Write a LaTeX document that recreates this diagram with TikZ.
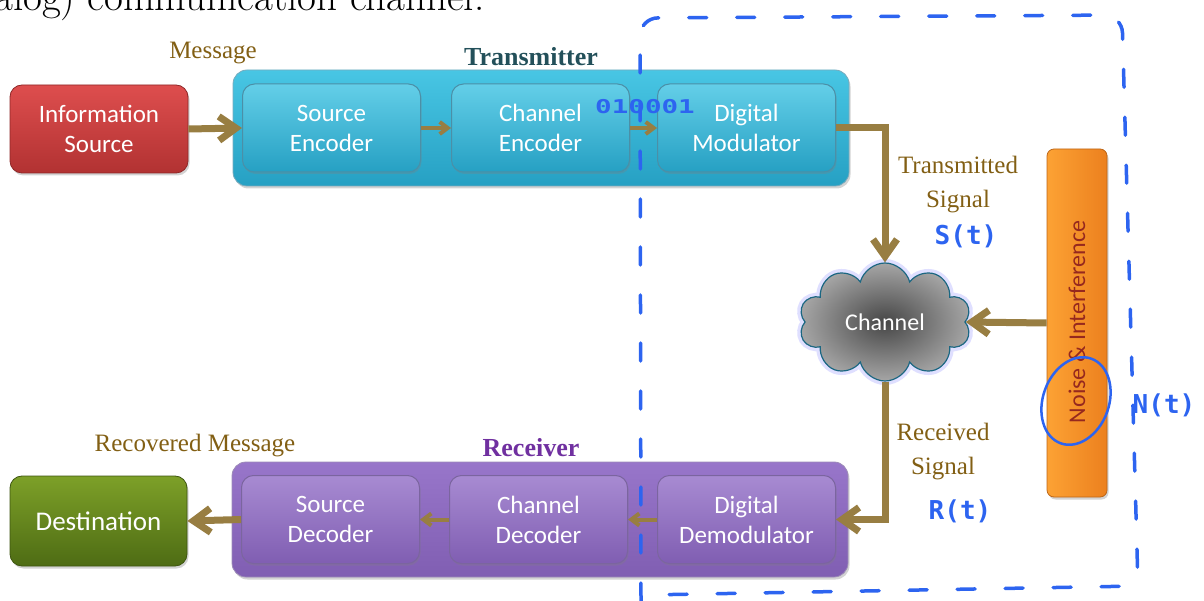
\documentclass[tikz,border=0pt]{standalone}
\usepackage{fontspec}
\newfontfamily\carlito{Carlito}
\newfontfamily\lserif{Liberation Serif}
\newfontfamily\handf{DejaVu Sans Mono}
\usetikzlibrary{shapes.symbols,arrows.meta,shadows}
\definecolor{arrowc}{RGB}{152,126,66}
\definecolor{goldtxt}{RGB}{130,95,20}
\definecolor{tealtop}{RGB}{72,198,228}
\definecolor{tealbot}{RGB}{38,160,195}
\definecolor{tealdark}{RGB}{30,115,145}
\definecolor{txlabel}{RGB}{35,80,90}
\definecolor{purptop}{RGB}{152,118,202}
\definecolor{purpbot}{RGB}{128,94,178}
\definecolor{purpdark}{RGB}{90,62,135}
\definecolor{rxlabel}{RGB}{112,48,160}
\definecolor{redtop}{RGB}{222,78,78}
\definecolor{redbot}{RGB}{178,50,50}
\definecolor{greentop}{RGB}{125,160,40}
\definecolor{greenbot}{RGB}{78,108,20}
\definecolor{orgtop}{RGB}{252,162,52}
\definecolor{orgbot}{RGB}{236,128,30}
\definecolor{noisetxt}{RGB}{150,40,30}
\definecolor{handblue}{RGB}{45,100,240}
\tikzset{
  boxtext/.style={align=center, text=white, inner sep=0pt, font=\carlito\fontsize{25}{30}\selectfont},
  outerbox/.style={rounded corners=14pt, inner sep=0pt, line width=0.8pt, drop shadow={opacity=0.35, shadow xshift=1.5pt, shadow yshift=-2.5pt}},
  txinner/.style={boxtext, rounded corners=12pt, minimum width=178pt, minimum height=88pt, top color=tealtop!85!white, bottom color=tealbot, draw=tealdark!80, line width=1pt, drop shadow={opacity=0.3, shadow xshift=1pt, shadow yshift=-2pt}},
  rxinner/.style={boxtext, rounded corners=12pt, minimum width=178pt, minimum height=88pt, top color=purptop!85!white, bottom color=purpbot, draw=purpdark!80, line width=1pt, drop shadow={opacity=0.3, shadow xshift=1pt, shadow yshift=-2pt}},
  label/.style={text=goldtxt, align=center, font=\lserif\fontsize{25}{34}\selectfont, inner sep=0pt},
  hand/.style={text=handblue, inner sep=0pt, font=\handf\bfseries\fontsize{26}{28}\selectfont},
  bigarrow/.style={draw=arrowc, line width=7pt, -{Straight Barb[length=17pt,width=24pt]}},
  smallarrow/.style={draw=arrowc, line width=4pt, -{Straight Barb[length=8pt,width=12pt]}},
}
\begin{document}
\begin{tikzpicture}[x=1pt,y=-1pt]
\useasboundingbox (0,0) rectangle (1204,601);
\begin{scope}
\clip (0,0) rectangle (1204,601);
\node[anchor=base west, inner sep=0pt, font=\fontsize{41}{44}\selectfont] (toptext) at (-6,11) {alog) communication channel.};
\end{scope}

% outer boxes
\node[outerbox, minimum width=616pt, minimum height=116pt, top color=tealtop, bottom color=tealbot, draw=tealdark!60] (tx) at (541,128) {};
\node[outerbox, minimum width=616pt, minimum height=115pt, top color=purptop, bottom color=purpbot, draw=purpdark!60] (rx) at (540,519.5) {};
\node[text=txlabel, inner sep=0pt, font=\lserif\bfseries\fontsize{26}{28}\selectfont] (txl) at (531,57) {Transmitter};
\node[text=rxlabel, inner sep=0pt, font=\lserif\bfseries\fontsize{26}{28}\selectfont] (rxl) at (531,448) {Receiver};

% end boxes
\node[boxtext, rounded corners=12pt, minimum width=178pt, minimum height=88pt, top color=redtop, bottom color=redbot, draw=redbot!80!black, line width=0.8pt, drop shadow={opacity=0.35, shadow xshift=1.5pt, shadow yshift=-2.5pt}] (info) at (99,129) {Information\\Source};
\node[boxtext, font=\carlito\fontsize{27}{30}\selectfont, rounded corners=12pt, minimum width=177pt, minimum height=90pt, top color=greentop, bottom color=greenbot, draw=greenbot!80!black, line width=0.8pt, drop shadow={opacity=0.35, shadow xshift=1.5pt, shadow yshift=-2.5pt}] (dest) at (98.5,521) {Destination};

% inner boxes
\node[txinner] (senc) at (331.5,128) {Source\\Encoder};
\node[txinner] (cenc) at (540.5,128) {Channel\\Encoder};
\node[txinner] (dmod) at (746.5,128) {Digital\\Modulator};
\node[rxinner] (sdec) at (330.5,519.5) {Source\\Decoder};
\node[rxinner] (cdec) at (538.5,519.5) {Channel\\Decoder};
\node[rxinner] (ddem) at (746.5,519.5) {Digital\\Demodulator};

% noise
\node[rounded corners=7pt, minimum width=60pt, minimum height=348pt, left color=orgtop, right color=orgbot, draw=orgbot!80!black, line width=0.8pt, inner sep=0pt, drop shadow={opacity=0.35, shadow xshift=1.5pt, shadow yshift=-2.5pt}] (noise) at (1077,323) {};
\node[rotate=90, text=noisetxt, inner sep=0pt, font=\carlito\fontsize{24}{26}\selectfont] (noisetext) at (1077,322) {Noise \& Interference};

% cloud
\node[cloud, cloud puffs=10, aspect=1.45, minimum width=172pt, minimum height=118pt, draw=blue!25, line width=8pt, opacity=0.5, inner sep=0pt] (chglow) at (885,322) {};
\node[cloud, cloud puffs=10, aspect=1.45, minimum width=172pt, minimum height=118pt, inner color=gray!55!black, outer color=gray!70, draw=tealdark!90!black, line width=1.2pt, text=white, inner sep=0pt, font=\carlito\fontsize{24}{26}\selectfont] (chan) at (885,322) {Channel};

% connectors
\draw[bigarrow] (info.east) -- (senc.west);
\draw[smallarrow] (senc.east) -- (cenc.west);
\draw[smallarrow] (cenc.east) -- (dmod.west);
\draw[bigarrow] (dmod.east) -- (885,128) -- (chan.north);
\draw[bigarrow] (noise.west) -- (chan.east);
\draw[bigarrow] (chan.south) -- (885,519.5) -- (ddem.east);
\draw[smallarrow] (ddem.west) -- (cdec.east);
\draw[smallarrow] (cdec.west) -- (sdec.east);
\draw[bigarrow] (sdec.west) -- (dest.east);

% labels
\node[label] (msg) at (213,53) {Message};
\node[label] (rmsg) at (195,446) {Recovered Message};
\node[label] (tsig) at (958,185) {Transmitted\\Signal};
\node[label] (rsig) at (943,452) {Received\\Signal};

% hand annotations
\node[hand] (st) at (966,236) {S(t)};
\node[hand] (rt) at (960,511) {R(t)};
\node[hand] (nt) at (1164,405) {N(t)};
\node[hand, font=\handf\bfseries\fontsize{19}{20}\selectfont] (bits) at (645,107) {\scalebox{1.45}[1]{010001}};
\draw[handblue, line width=2.5pt] (1076,401) ellipse[x radius=45, y radius=33, rotate=70];
\draw[handblue, line width=3.5pt, line cap=round, dash pattern=on 18pt off 30pt, rounded corners=18pt]
  (641,601) -- (640,18) -- (1122,15) -- (1138,586) -- (645,595);
\end{tikzpicture}
\end{document}
